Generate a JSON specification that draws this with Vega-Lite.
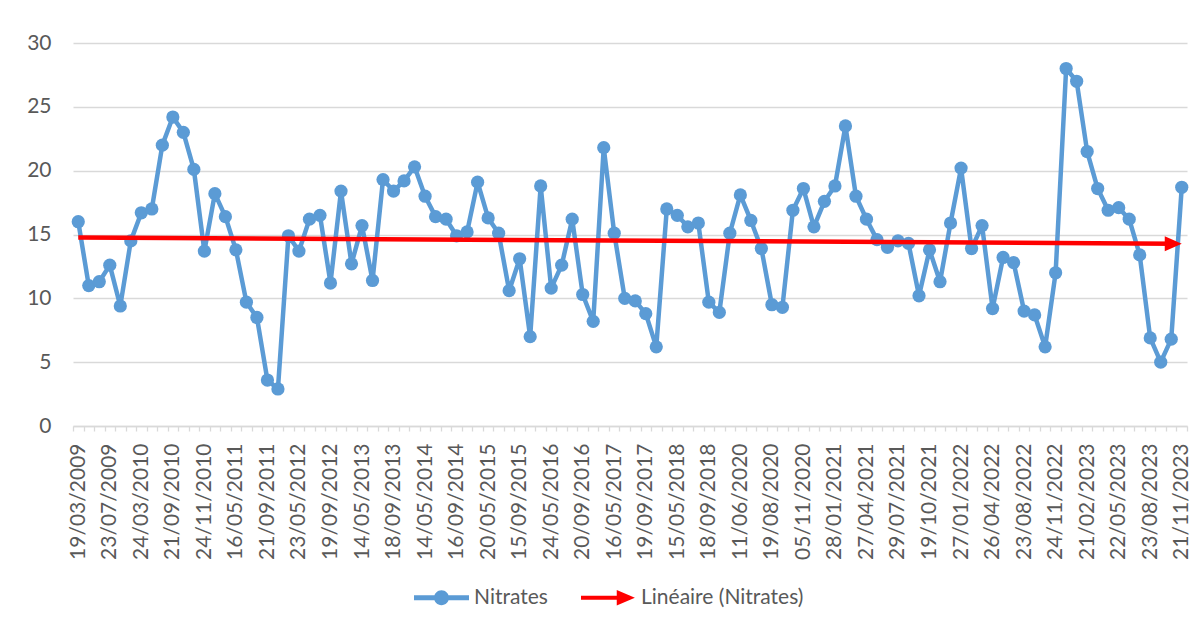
{
  "$schema": "https://vega.github.io/schema/vega-lite/v6.json",
  "width": 1114,
  "height": 383,
  "autosize": "none",
  "padding": {"left": 73, "top": 43, "right": 15, "bottom": 201},
  "background": "white",
  "config": {
    "view": {"stroke": null},
    "font": "Lato",
    "legend": {
      "orient": "none",
      "legendX": 341,
      "legendY": 527,
      "direction": "horizontal",
      "symbolSize": 3025,
      "symbolFillColor": "#000000",
      "symbolStrokeWidth": 0,
      "labelFont": "Lato",
      "labelFontSize": 21,
      "labelColor": "#595959",
      "labelOffset": 5,
      "labelLimit": 0,
      "columnPadding": 33
    }
  },
  "data": {
    "values": [
      {"i": 0, "date": "19/03/2009", "v": 16.0},
      {"i": 1, "date": "22/04/2009", "v": 11.0},
      {"i": 2, "date": "27/05/2009", "v": 11.3},
      {"i": 3, "date": "23/07/2009", "v": 12.6},
      {"i": 4, "date": "22/10/2009", "v": 9.4},
      {"i": 5, "date": "14/01/2010", "v": 14.5},
      {"i": 6, "date": "24/03/2010", "v": 16.7},
      {"i": 7, "date": "25/05/2010", "v": 17.0},
      {"i": 8, "date": "22/07/2010", "v": 22.0},
      {"i": 9, "date": "21/09/2010", "v": 24.2},
      {"i": 10, "date": "12/10/2010", "v": 23.0},
      {"i": 11, "date": "03/11/2010", "v": 20.1},
      {"i": 12, "date": "24/11/2010", "v": 13.7},
      {"i": 13, "date": "23/02/2011", "v": 18.2},
      {"i": 14, "date": "13/04/2011", "v": 16.4},
      {"i": 15, "date": "16/05/2011", "v": 13.8},
      {"i": 16, "date": "20/06/2011", "v": 9.7},
      {"i": 17, "date": "18/07/2011", "v": 8.5},
      {"i": 18, "date": "21/09/2011", "v": 3.6},
      {"i": 19, "date": "23/11/2011", "v": 2.9},
      {"i": 20, "date": "22/03/2012", "v": 14.9},
      {"i": 21, "date": "23/05/2012", "v": 13.7},
      {"i": 22, "date": "20/06/2012", "v": 16.2},
      {"i": 23, "date": "18/07/2012", "v": 16.5},
      {"i": 24, "date": "19/09/2012", "v": 11.2},
      {"i": 25, "date": "20/11/2012", "v": 18.4},
      {"i": 26, "date": "19/02/2013", "v": 12.7},
      {"i": 27, "date": "14/05/2013", "v": 15.7},
      {"i": 28, "date": "18/06/2013", "v": 11.4},
      {"i": 29, "date": "16/07/2013", "v": 19.3},
      {"i": 30, "date": "18/09/2013", "v": 18.4},
      {"i": 31, "date": "20/11/2013", "v": 19.2},
      {"i": 32, "date": "19/02/2014", "v": 20.3},
      {"i": 33, "date": "14/05/2014", "v": 18.0},
      {"i": 34, "date": "17/06/2014", "v": 16.4},
      {"i": 35, "date": "16/07/2014", "v": 16.2},
      {"i": 36, "date": "16/09/2014", "v": 14.9},
      {"i": 37, "date": "18/11/2014", "v": 15.2},
      {"i": 38, "date": "17/02/2015", "v": 19.1},
      {"i": 39, "date": "20/05/2015", "v": 16.3},
      {"i": 40, "date": "17/06/2015", "v": 15.1},
      {"i": 41, "date": "15/07/2015", "v": 10.6},
      {"i": 42, "date": "15/09/2015", "v": 13.1},
      {"i": 43, "date": "17/11/2015", "v": 7.0},
      {"i": 44, "date": "23/02/2016", "v": 18.8},
      {"i": 45, "date": "24/05/2016", "v": 10.8},
      {"i": 46, "date": "21/06/2016", "v": 12.6},
      {"i": 47, "date": "19/07/2016", "v": 16.2},
      {"i": 48, "date": "20/09/2016", "v": 10.3},
      {"i": 49, "date": "22/11/2016", "v": 8.2},
      {"i": 50, "date": "21/02/2017", "v": 21.8},
      {"i": 51, "date": "16/05/2017", "v": 15.1},
      {"i": 52, "date": "20/06/2017", "v": 10.0},
      {"i": 53, "date": "18/07/2017", "v": 9.8},
      {"i": 54, "date": "19/09/2017", "v": 8.8},
      {"i": 55, "date": "21/11/2017", "v": 6.2},
      {"i": 56, "date": "20/02/2018", "v": 17.0},
      {"i": 57, "date": "15/05/2018", "v": 16.5},
      {"i": 58, "date": "19/06/2018", "v": 15.6},
      {"i": 59, "date": "17/07/2018", "v": 15.9},
      {"i": 60, "date": "18/09/2018", "v": 9.7},
      {"i": 61, "date": "20/11/2018", "v": 8.9},
      {"i": 62, "date": "20/02/2020", "v": 15.1},
      {"i": 63, "date": "11/06/2020", "v": 18.1},
      {"i": 64, "date": "09/07/2020", "v": 16.1},
      {"i": 65, "date": "23/07/2020", "v": 13.9},
      {"i": 66, "date": "19/08/2020", "v": 9.5},
      {"i": 67, "date": "09/09/2020", "v": 9.3},
      {"i": 68, "date": "14/10/2020", "v": 16.9},
      {"i": 69, "date": "05/11/2020", "v": 18.6},
      {"i": 70, "date": "26/11/2020", "v": 15.6},
      {"i": 71, "date": "17/12/2020", "v": 17.6},
      {"i": 72, "date": "28/01/2021", "v": 18.8},
      {"i": 73, "date": "25/02/2021", "v": 23.5},
      {"i": 74, "date": "25/03/2021", "v": 18.0},
      {"i": 75, "date": "27/04/2021", "v": 16.2},
      {"i": 76, "date": "26/05/2021", "v": 14.6},
      {"i": 77, "date": "29/06/2021", "v": 14.0},
      {"i": 78, "date": "29/07/2021", "v": 14.5},
      {"i": 79, "date": "24/08/2021", "v": 14.3},
      {"i": 80, "date": "22/09/2021", "v": 10.2},
      {"i": 81, "date": "19/10/2021", "v": 13.8},
      {"i": 82, "date": "23/11/2021", "v": 11.3},
      {"i": 83, "date": "14/12/2021", "v": 15.9},
      {"i": 84, "date": "27/01/2022", "v": 20.2},
      {"i": 85, "date": "24/02/2022", "v": 13.9},
      {"i": 86, "date": "24/03/2022", "v": 15.7},
      {"i": 87, "date": "26/04/2022", "v": 9.2},
      {"i": 88, "date": "24/05/2022", "v": 13.2},
      {"i": 89, "date": "20/07/2022", "v": 12.8},
      {"i": 90, "date": "23/08/2022", "v": 9.0},
      {"i": 91, "date": "21/09/2022", "v": 8.7},
      {"i": 92, "date": "24/10/2022", "v": 6.2},
      {"i": 93, "date": "24/11/2022", "v": 12.0},
      {"i": 94, "date": "15/12/2022", "v": 28.0},
      {"i": 95, "date": "19/01/2023", "v": 27.0},
      {"i": 96, "date": "21/02/2023", "v": 21.5},
      {"i": 97, "date": "22/03/2023", "v": 18.6},
      {"i": 98, "date": "19/04/2023", "v": 16.9},
      {"i": 99, "date": "22/05/2023", "v": 17.1},
      {"i": 100, "date": "21/06/2023", "v": 16.2},
      {"i": 101, "date": "19/07/2023", "v": 13.4},
      {"i": 102, "date": "23/08/2023", "v": 6.9},
      {"i": 103, "date": "20/09/2023", "v": 5.0},
      {"i": 104, "date": "18/10/2023", "v": 6.8},
      {"i": 105, "date": "21/11/2023", "v": 18.7}
    ]
  },
  "layer": [
    {
      "mark": {
        "type": "line",
        "color": "#5B9BD5",
        "strokeWidth": 4.5,
        "strokeJoin": "round",
        "strokeCap": "round",
        "point": {"filled": true, "size": 175, "color": "#5B9BD5"}
      },
      "encoding": {
        "x": {
          "field": "date",
          "type": "ordinal",
          "sort": null,
          "scale": {"type": "point", "padding": 0.5},
          "axis": {
            "values": ["19/03/2009", "23/07/2009", "24/03/2010", "21/09/2010", "24/11/2010", "16/05/2011", "21/09/2011", "23/05/2012", "19/09/2012", "14/05/2013", "18/09/2013", "14/05/2014", "16/09/2014", "20/05/2015", "15/09/2015", "24/05/2016", "20/09/2016", "16/05/2017", "19/09/2017", "15/05/2018", "18/09/2018", "11/06/2020", "19/08/2020", "05/11/2020", "28/01/2021", "27/04/2021", "29/07/2021", "19/10/2021", "27/01/2022", "26/04/2022", "23/08/2022", "24/11/2022", "21/02/2023", "22/05/2023", "23/08/2023", "21/11/2023"],
            "orient": "bottom",
            "labelAngle": 270,
            "ticks": false,
            "tickSize": 0,
            "domain": false,
            "grid": false,
            "labelPadding": 17,
            "labelFont": "Lato",
            "labelFontSize": 21,
            "labelColor": "#595959",
            "labelOverlap": false,
            "title": null
          }
        },
        "y": {
          "field": "v",
          "type": "quantitative",
          "scale": {"domain": [0, 30], "nice": false, "zero": true},
          "axis": {
            "values": [0, 5, 10, 15, 20, 25, 30],
            "grid": true,
            "gridColor": "#d9d9d9",
            "gridWidth": 1.3,
            "domain": false,
            "ticks": false,
            "tickSize": 0,
            "labelPadding": 22,
            "labelFont": "Lato",
            "labelFontSize": 21,
            "labelColor": "#595959",
            "title": null
          }
        }
      }
    },
    {
      "transform": [{"regression": "v", "on": "i", "extent": [0, 104.3]}],
      "mark": {"type": "line", "color": "#FF0000", "strokeWidth": 4.5, "strokeCap": "butt"},
      "encoding": {
        "x": {
          "field": "i",
          "type": "quantitative",
          "scale": {"domain": [-0.5, 105.5], "nice": false, "zero": false},
          "axis": {
            "orient": "bottom",
            "values": [-0.5, 0.5, 1.5, 2.5, 3.5, 4.5, 5.5, 6.5, 7.5, 8.5, 9.5, 10.5, 11.5, 12.5, 13.5, 14.5, 15.5, 16.5, 17.5, 18.5, 19.5, 20.5, 21.5, 22.5, 23.5, 24.5, 25.5, 26.5, 27.5, 28.5, 29.5, 30.5, 31.5, 32.5, 33.5, 34.5, 35.5, 36.5, 37.5, 38.5, 39.5, 40.5, 41.5, 42.5, 43.5, 44.5, 45.5, 46.5, 47.5, 48.5, 49.5, 50.5, 51.5, 52.5, 53.5, 54.5, 55.5, 56.5, 57.5, 58.5, 59.5, 60.5, 61.5, 62.5, 63.5, 64.5, 65.5, 66.5, 67.5, 68.5, 69.5, 70.5, 71.5, 72.5, 73.5, 74.5, 75.5, 76.5, 77.5, 78.5, 79.5, 80.5, 81.5, 82.5, 83.5, 84.5, 85.5, 86.5, 87.5, 88.5, 89.5, 90.5, 91.5, 92.5, 93.5, 94.5, 95.5, 96.5, 97.5, 98.5, 99.5, 100.5, 101.5, 102.5, 103.5, 104.5, 105.5],
            "labels": false,
            "ticks": true,
            "tickSize": 5,
            "tickColor": "#d9d9d9",
            "tickWidth": 1.3,
            "domain": true,
            "domainColor": "#d9d9d9",
            "domainWidth": 1.3,
            "grid": false,
            "title": null
          }
        },
        "y": {"field": "v", "type": "quantitative", "scale": {"domain": [0, 30], "nice": false}}
      }
    },
    {
      "transform": [
        {"regression": "v", "on": "i", "extent": [0, 105]},
        {"filter": "datum.i >= 105"}
      ],
      "mark": {
        "type": "point",
        "shape": "M-2,-0.88L0,0L-2,0.88Z",
        "size": 289,
        "filled": true,
        "color": "#FF0000",
        "strokeWidth": 0,
        "opacity": 1
      },
      "encoding": {
        "x": {"field": "i", "type": "quantitative", "scale": {"domain": [-0.5, 105.5], "nice": false, "zero": false}, "axis": null},
        "y": {"field": "v", "type": "quantitative", "scale": {"domain": [0, 30], "nice": false}}
      }
    },
    {
      "transform": [{"filter": "false"}],
      "mark": {"type": "point", "filled": true, "strokeWidth": 0, "opacity": 1},
      "encoding": {
        "color": {
          "field": "series",
          "type": "nominal",
          "scale": {"domain": ["Nitrates", "Linéaire (Nitrates)"], "range": ["#5B9BD5", "#FF0000"]},
          "legend": {"title": null}
        },
        "shape": {
          "field": "series",
          "type": "nominal",
          "scale": {
            "domain": ["Nitrates", "Linéaire (Nitrates)"],
            "range": [
              "M-1,-0.09H1V0.09H-1Z M0.27,0A0.27,0.27 0 1,1 -0.27,0A0.27,0.27 0 1,1 0.27,0Z",
              "M-1,-0.075H0.4V0.075H-1Z M0.3,-0.28L0.96,0L0.3,0.28Z"
            ]
          },
          "legend": {"title": null}
        }
      }
    }
  ],
  "resolve": {"scale": {"x": "independent"}, "axis": {"x": "independent"}}
}
